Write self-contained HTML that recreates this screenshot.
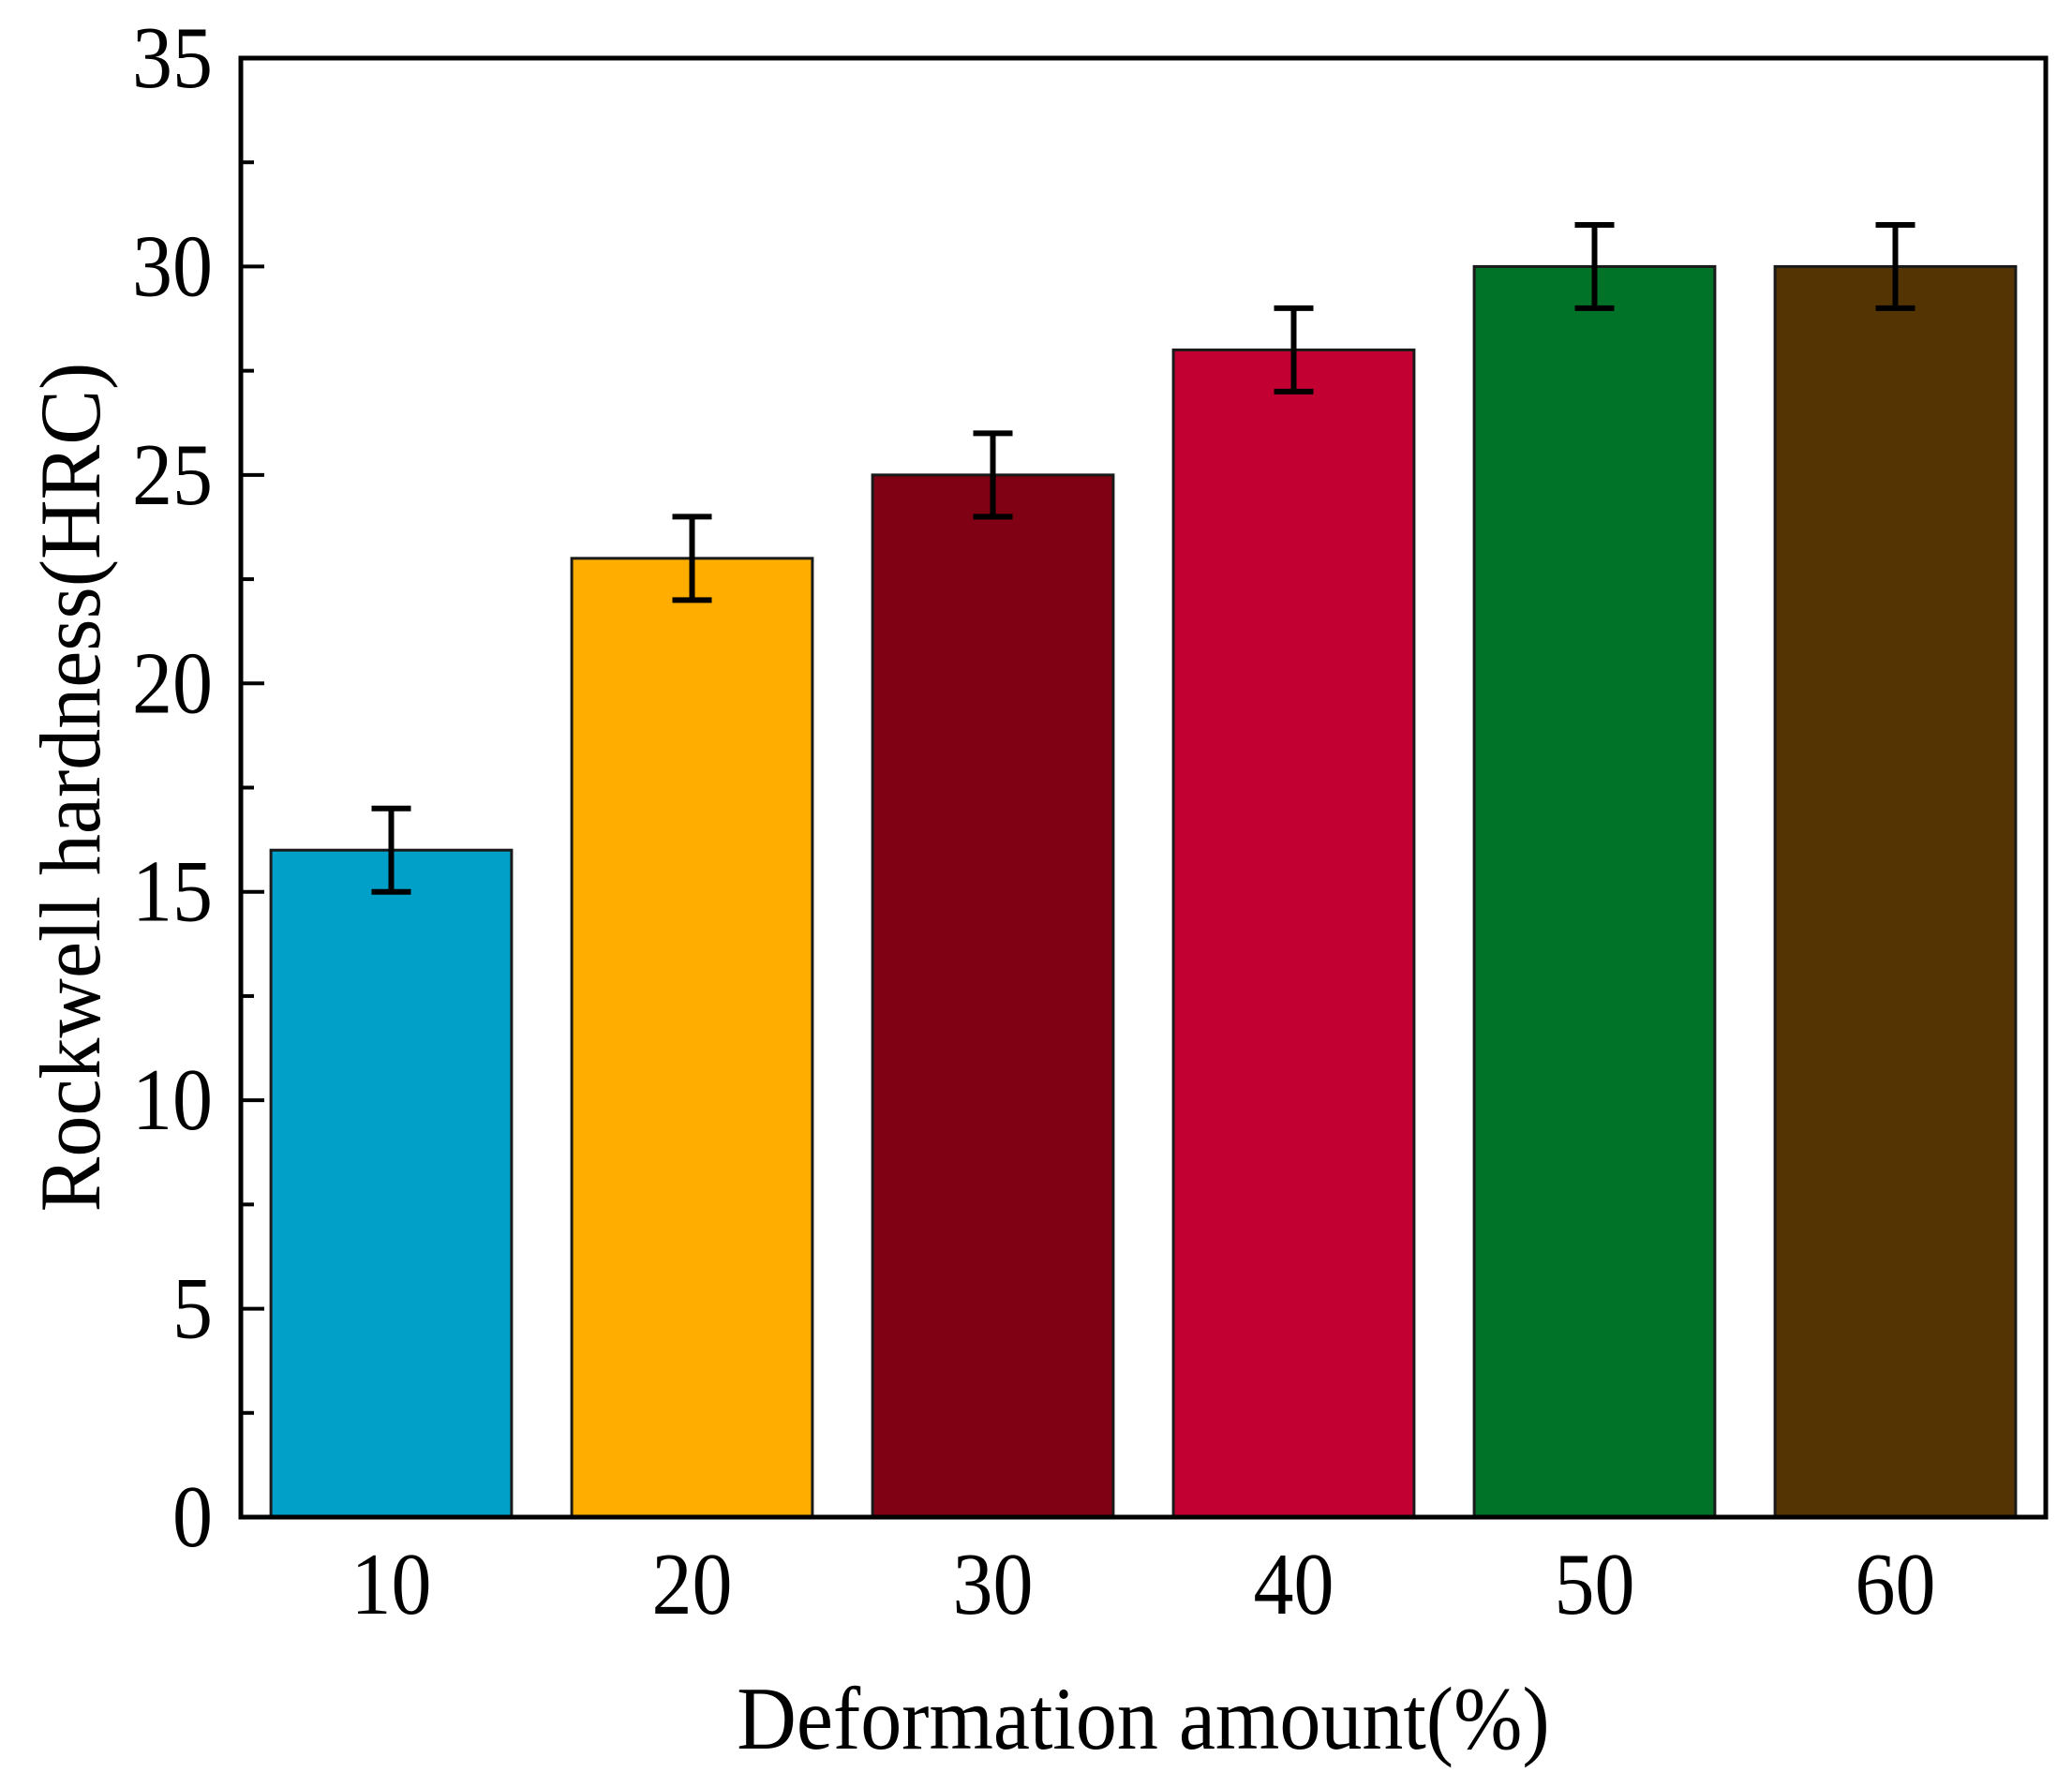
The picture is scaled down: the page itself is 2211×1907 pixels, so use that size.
<!DOCTYPE html>
<html><head><meta charset="utf-8"><style>
html,body{margin:0;padding:0;background:#fff;}
svg{display:block;font-family:"Liberation Serif",serif;}
</style></head><body>
<svg id="chart" width="2211" height="1907" viewBox="0 0 2211 1907" xmlns="http://www.w3.org/2000/svg">
<g id="plot"></g>
</svg>
<script>
const categories = ["10","20","30","40","50","60"];
const values = [16,23,25,28,30,30];
const errors = [1,1,1,1,1,1];
const colors = ["#00A0C8","#FFAE00","#800014","#C30032","#007328","#553403"];
const yTicks = [0,5,10,15,20,25,30,35];
const yMinor = [2.5,7.5,12.5,17.5,22.5,27.5,32.5];

const NS="http://www.w3.org/2000/svg";
const L=257,R=2183,T=62,B=1619;
const yMax=35;
const y=v=>B-(v/yMax)*(B-T);
const band=(R-L)/categories.length;
const xc=i=>L+band*(i+0.5);
const bw=band*0.8;
const g=document.getElementById('plot');
function mk(tag,attrs){const e=document.createElementNS(NS,tag);for(const k in attrs)e.setAttribute(k,attrs[k]);g.appendChild(e);return e;}

categories.forEach((c,i)=>{
  const r=mk('rect',{x:xc(i)-bw/2,y:y(values[i]),width:bw,height:B-y(values[i]),fill:colors[i],stroke:'#1a1a1a','stroke-width':3});
  
  
  const top=y(values[i]+errors[i]),bot=y(values[i]-errors[i]);
  const eg=document.createElementNS(NS,'g');g.appendChild(eg);
  
  
  [[xc(i),top,xc(i),bot],[xc(i)-21,top,xc(i)+21,top],[xc(i)-21,bot,xc(i)+21,bot]].forEach(a=>{
    const l=document.createElementNS(NS,'line');
    l.setAttribute('x1',a[0]);l.setAttribute('y1',a[1]);l.setAttribute('x2',a[2]);l.setAttribute('y2',a[3]);
    l.setAttribute('stroke','#000');l.setAttribute('stroke-width',6);eg.appendChild(l);
  });
  const t=mk('text',{x:0,y:0,'text-anchor':'middle','font-size':86,transform:'translate('+xc(i)+',1722) scale(1,1.1)'});
  t.textContent=c;
  
  
});

yTicks.forEach(v=>{
  const l=mk('line',{x1:L,x2:L+25,y1:y(v),y2:y(v),stroke:'#000','stroke-width':4});
  
  
  const t=mk('text',{x:0,y:0,'text-anchor':'end','font-size':86,transform:'translate(227,'+(y(v)+31)+') scale(1,1.1)'});
  t.textContent=v;
  
  
});
yMinor.forEach(v=>{
  const l=mk('line',{x1:L,x2:L+14,y1:y(v),y2:y(v),stroke:'#000','stroke-width':4});
  
  
});

const frame=mk('rect',{x:L,y:T,width:R-L,height:B-T,fill:'none',stroke:'#000','stroke-width':5});



const xt=mk('text',{x:0,y:0,'text-anchor':'middle','font-size':88,transform:'translate(1220,1866) scale(1,1.08)'});
xt.textContent='Deformation amount(%)';



const yt=mk('text',{x:0,y:0,'text-anchor':'middle','font-size':88,transform:'translate(106,840) rotate(-90) scale(1,1.05)'});
yt.textContent='Rockwell hardness(HRC)';


</script>
</body></html>
